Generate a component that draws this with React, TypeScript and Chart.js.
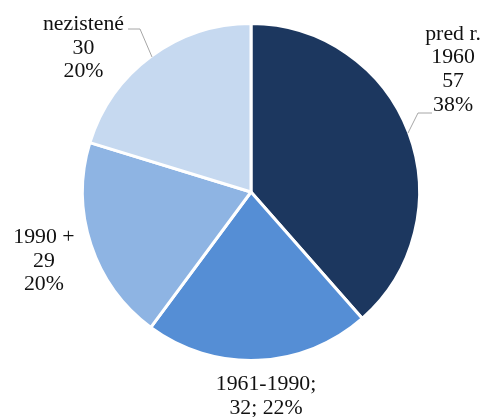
import React, { useEffect, useRef } from "react";
import { Chart, registerables } from "chart.js";

Chart.register(...registerables);

const categories = ["pred r. 1960", "1961-1990", "1990 +", "nezistené"];
const values = [57, 32, 29, 30];
const percents = ["38%", "22%", "20%", "20%"];
const labelLines = [
  ["pred r.", "1960", "57", "38%"],
  ["1961-1990;", "32; 22%"],
  ["1990 +", "29", "20%"],
  ["nezistené", "30", "20%"],
];
const colors = ["#1c375f", "#558ed5", "#8eb4e3", "#c6d9f0"];

// label block centers relative to pie center, in units of radius
const labelAnchors = [
  [1.21, -0.73],
  [0.09, 1.226],
  [-1.24, 0.416],
  [-1.003, -0.859],
];
// leader lines relative to pie center (units of radius)
const leaders: (number[][] | null)[] = [
  [[181 / 167, -79 / 167], [167 / 167, -79 / 167], [157 / 167, -59 / 167]],
  null,
  null,
  [[-123 / 167, -163 / 167], [-111 / 167, -163 / 167], [-99 / 167, -135 / 167]],
];

const labelPlugin = {
  id: "pieLabels",
  afterDatasetsDraw(chart: any) {
    const ctx = chart.ctx;
    const meta = chart.getDatasetMeta(0);
    const arc0 = meta.data[0];
    if (!arc0) return;
    const cx = arc0.x;
    const cy = arc0.y;
    const R = 167;
    ctx.save();
    // leader lines
    ctx.strokeStyle = "#a6a6a6";
    ctx.lineWidth = 1;
    leaders.forEach((pts) => {
      if (!pts) return;
      ctx.beginPath();
      pts.forEach((p, i) => {
        const x = cx + p[0] * R;
        const y = cy + p[1] * R;
        if (i === 0) ctx.moveTo(x, y);
        else ctx.lineTo(x, y);
      });
      ctx.stroke();
    });
    // text
    ctx.fillStyle = "#111";
    ctx.font = "20px 'Liberation Serif', 'Times New Roman', serif";
    ctx.textAlign = "center";
    ctx.textBaseline = "middle";
    const lh = 23.7;
    labelLines.forEach((lines, i) => {
      const ax = cx + labelAnchors[i][0] * R;
      const ay = cy + labelAnchors[i][1] * R;
      const n = lines.length;
      lines.forEach((t, j) => {
        const y = ay + (j - (n - 1) / 2) * lh;
        ctx.save();
        ctx.translate(ax, y);
        ctx.scale(1.09, 1);
        ctx.fillText(t, 0, 0);
        ctx.restore();
      });
    });
    ctx.restore();
  },
};

export default function App() {
  const ref = useRef<HTMLCanvasElement>(null);
  useEffect(() => {
    if (!ref.current) return;
    const chart = new Chart(ref.current, {
      type: "pie",
      data: {
        labels: categories,
        datasets: [
          {
            data: values,
            backgroundColor: colors,
            borderColor: "#ffffff",
            borderWidth: 3,
          },
        ],
      },
      options: {
        responsive: false,
        animation: false,
        radius: 168.5,
        layout: { padding: { left: 22, right: 0, top: 0, bottom: 33 } },
        plugins: {
          legend: { display: false },
          tooltip: { enabled: false },
        },
      } as any,
      plugins: [labelPlugin],
    });
    return () => chart.destroy();
  }, []);
  return (
    <div style={{ position: "fixed", left: 0, top: 0, width: 480, height: 417, background: "#fff" }}>
      <canvas ref={ref} width={480} height={417} style={{ display: "block" }} />
    </div>
  );
}
